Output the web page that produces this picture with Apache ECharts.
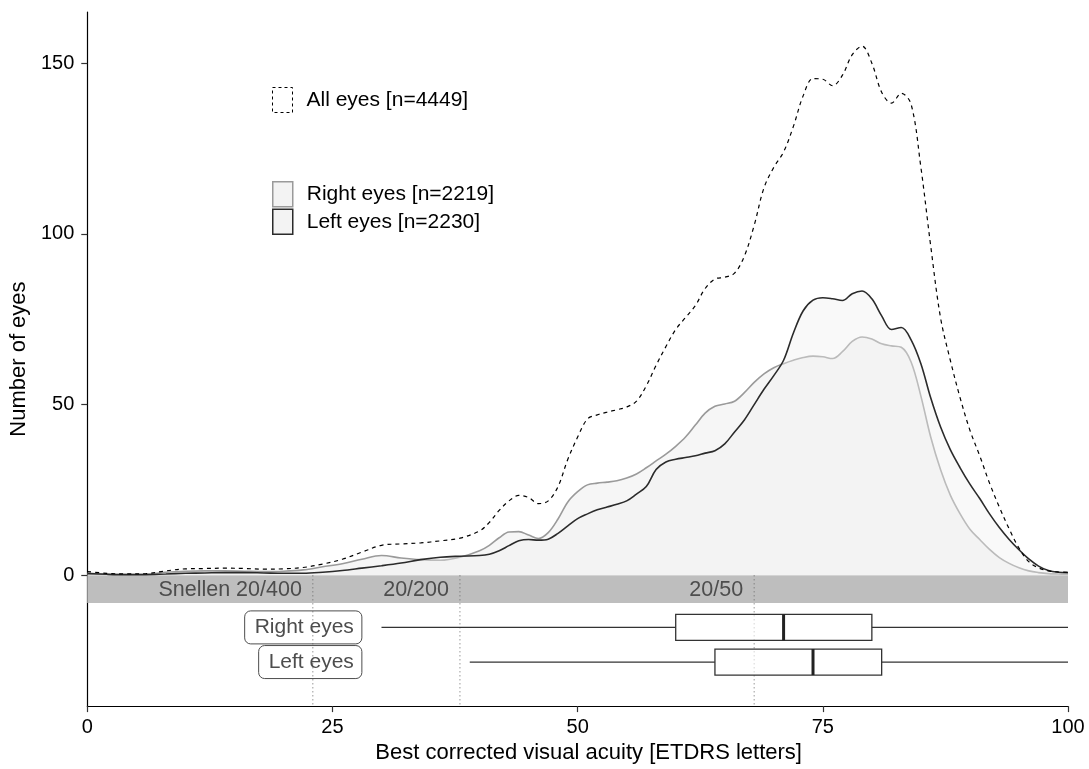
<!DOCTYPE html>
<html>
<head>
<meta charset="utf-8">
<title>Best corrected visual acuity</title>
<script src="https://cdn.jsdelivr.net/npm/echarts@6/dist/echarts.min.js"></script>
<style>
  html, body { margin: 0; padding: 0; background: #fff; }
  #chart { width: 1089px; height: 769px; }
</style>
</head>
<body>
<div id="chart"></div>
<script>
// ETDRS letter scores at which the density estimates are sampled
const acuity = [
  0, 2, 4, 6, 8, 10, 12, 14, 16, 18, 20, 22, 24, 26, 28, 30, 32, 34, 36, 38, 40,
  41, 42, 43, 44, 45, 46, 47, 48, 49, 50,
  51, 52, 53, 54, 55, 56, 57, 58, 59, 60,
  61, 62, 63, 64, 65, 66, 67, 68, 69, 70,
  71, 72, 73, 74, 75, 76, 77, 78, 79, 80,
  81, 82, 83, 84, 85, 86, 87, 88, 89, 90,
  91, 92, 93, 94, 95, 96, 97, 98, 99, 100
];

// Number of eyes (density scaled to counts)
const allEyes = [
  1.1, 0.6, 0.4, 0.5, 1.3, 1.9, 2.0, 2.1, 2.0, 1.8, 1.9, 2.3, 3.3, 4.7, 6.8, 8.8, 9.2, 9.5, 10.1, 10.9, 13.0,
  15.5, 19.0, 21.8, 23.4, 22.8, 21.0, 21.8, 26.0, 34.0, 40.5,
  45.8, 47.0, 47.8, 48.5, 49.3, 51.0, 55.5, 61.5, 67.0, 72.0,
  75.5, 79.0, 84.0, 86.8, 87.3, 88.5, 93.5, 102.5, 113.5, 119.5,
  124.0, 131.5, 140.5, 145.5, 145.3, 143.4, 146.5, 152.5, 155.0, 150.0,
  141.5, 138.3, 141.2, 138.0, 119.5, 96.5, 75.5, 63.0, 52.0, 42.5,
  35.0, 27.0, 20.0, 13.6, 8.0, 4.0, 2.2, 1.3, 1.0, 0.9
];

const rightEyes = [
  0.6, 0.3, 0.2, 0.3, 0.9, 1.2, 1.3, 1.3, 1.2, 1.1, 1.2, 1.6, 2.5, 3.4, 4.7, 5.8, 5.1, 4.6, 4.4, 5.3, 7.2,
  8.8, 11.0, 12.7, 12.8, 11.8, 10.8, 12.5, 16.5, 21.5, 24.5,
  26.5, 27.0, 27.3, 27.7, 28.5, 29.7, 31.5, 33.5, 35.5, 37.8,
  40.5, 44.0, 47.5, 49.5, 50.2, 51.0, 53.5, 56.5, 59.0, 60.8,
  62.0, 63.0, 63.8, 64.2, 64.0, 63.5, 65.5, 68.5, 69.8, 69.2,
  67.8, 67.2, 66.8, 62.5, 52.5, 40.5, 31.0, 23.5, 18.0, 13.5,
  10.5, 7.6, 5.2, 3.5, 2.2, 1.3, 0.8, 0.5, 0.4, 0.3
];

const leftEyes = [
  0.5, 0.3, 0.2, 0.2, 0.4, 0.6, 0.7, 0.8, 0.8, 0.7, 0.6, 0.6, 0.9, 1.4, 2.1, 2.8, 3.6, 4.6, 5.3, 5.6, 5.8,
  6.2, 7.2, 8.7, 10.1, 10.5, 10.3, 10.6, 12.3, 14.5, 16.6,
  18.0, 19.2, 20.0, 20.8, 21.8, 23.8, 26.0, 31.0, 33.2, 34.0,
  34.5, 35.0, 35.8, 36.5, 38.5, 42.0, 45.5, 50.0, 54.5, 58.5,
  63.0, 71.0, 77.5, 80.6, 81.3, 81.0, 80.5, 82.5, 83.3, 81.0,
  76.0, 72.0, 72.6, 69.0, 62.0, 52.0, 43.5, 36.8, 31.5, 26.7,
  22.5, 18.0, 14.0, 10.5, 7.5, 4.8, 2.7, 1.4, 0.9, 0.8
];

const seriesNames = ['All eyes [n=4449]', 'Right eyes [n=2219]', 'Left eyes [n=2230]'];

// Snellen equivalents marked on the letter scale
const snellenAt = [23, 38, 68];
const snellenText = ['Snellen 20/400', '20/200', '20/50'];

// Box plot summaries: [min, q1, median, q3, max]
const boxGroups = ['Right eyes', 'Left eyes'];
const boxStats = [
  [30, 60, 71, 80, 100],
  [39, 64, 74, 81, 100]
];

const yTicks = [0, 50, 100, 150];

// ---- layout ----
const FONT = '"Liberation Sans", Arial, Helvetica, sans-serif';
const Y_MIN = -38.3;
const Y_MAX = 165;
const BAND_BOTTOM = -8.1;        // lower edge of the Snellen strip
const BOX_ROWS = [-15.25, -25.4]; // vertical placement of the two box plots
const BOX_HALF = 13;              // half box height in px
const LABEL_ANCHOR = 28;          // right edge of the box plot captions (letters)

const toPairs = arr => acuity.map((x, i) => [x, arr[i]]);

const chart = echarts.init(document.getElementById('chart'), null, { renderer: 'canvas' });

chart.setOption({
  animation: false,
  backgroundColor: '#fff',
  textStyle: { fontFamily: FONT },
  grid: { left: 86, right: 21, top: 12, bottom: 57, containLabel: false },
  legend: [
    {
      left: 272, top: 87, padding: 0,
      itemWidth: 20, itemHeight: 25,
      selectedMode: false,
      textStyle: { fontSize: 21, color: '#000', fontFamily: FONT, padding: [0, 0, 0, 9] },
      data: [{
        name: seriesNames[0], icon: 'rect',
        itemStyle: { color: '#fff', borderColor: '#000', borderWidth: 1, borderType: [3, 3] }
      }]
    },
    {
      left: 272, top: 181, padding: 0, orient: 'vertical', itemGap: 1,
      itemWidth: 20, itemHeight: 25,
      selectedMode: false,
      textStyle: { fontSize: 21, color: '#000', fontFamily: FONT, padding: [0, 0, 0, 9] },
      data: [
        { name: seriesNames[1], icon: 'rect', itemStyle: { color: '#f3f3f3', borderColor: '#9a9a9a', borderWidth: 1.5 } },
        { name: seriesNames[2], icon: 'rect', itemStyle: { color: '#f3f3f3', borderColor: '#2b2b2b', borderWidth: 1.5 } }
      ]
    }
  ],
  xAxis: {
    type: 'value', min: 0, max: 100, interval: 25,
    name: 'Best corrected visual acuity [ETDRS letters]',
    nameLocation: 'middle', nameGap: 33,
    nameTextStyle: { fontSize: 22, color: '#000', fontFamily: FONT, padding: [0, 0, 0, 22] },
    axisLine: { show: true, onZero: false, lineStyle: { color: '#000', width: 1.2 } },
    axisTick: { show: true, length: 6, lineStyle: { color: '#333', width: 1.2 } },
    axisLabel: { fontSize: 20, color: '#000', margin: 11, fontFamily: FONT },
    splitLine: { show: false }
  },
  yAxis: {
    type: 'value', min: Y_MIN, max: Y_MAX,
    name: 'Number of eyes',
    nameLocation: 'middle', nameGap: 56,
    nameTextStyle: { fontSize: 22, color: '#000', fontFamily: FONT },
    axisLine: { show: true, onZero: false, lineStyle: { color: '#000', width: 1.2 } },
    axisTick: { show: true, length: 6, customValues: yTicks, lineStyle: { color: '#333', width: 1.2 } },
    axisLabel: { customValues: yTicks, fontSize: 20, color: '#000', margin: 13, fontFamily: FONT },
    splitLine: { show: false }
  },
  series: [
    {
      // grey strip carrying the Snellen equivalents
      type: 'custom', name: 'strip', z: 1, silent: true,
      data: [[0, 100]],
      renderItem: (params, api) => {
        const a = api.coord([api.value(0), 0]);
        const b = api.coord([api.value(1), BAND_BOTTOM]);
        return {
          type: 'rect',
          shape: { x: a[0], y: a[1], width: b[0] - a[0], height: b[1] - a[1] },
          style: { fill: '#bebebe' }
        };
      }
    },
    {
      name: seriesNames[1], type: 'line', z: 2,
      data: toPairs(rightEyes), smooth: 0.35, symbol: 'none',
      lineStyle: { color: '#9a9a9a', width: 1.6 },
      itemStyle: { color: '#9a9a9a' },
      areaStyle: { color: 'rgba(230,230,230,0.5)' }
    },
    {
      name: seriesNames[2], type: 'line', z: 3,
      data: toPairs(leftEyes), smooth: 0.35, symbol: 'none',
      lineStyle: { color: '#2b2b2b', width: 1.6 },
      itemStyle: { color: '#2b2b2b' },
      areaStyle: { color: 'rgba(240,240,240,0.55)' }
    },
    {
      name: seriesNames[0], type: 'line', z: 4,
      data: toPairs(allEyes), smooth: 0.35, symbol: 'none',
      lineStyle: { color: '#000', width: 1.2, type: [4, 4] },
      itemStyle: { color: '#000' }
    },
    {
      // dotted Snellen markers and their captions
      type: 'custom', name: 'snellen', z: 5, silent: true,
      data: snellenAt.map((x, i) => [x, i]),
      renderItem: (params, api) => {
        const x = api.value(0);
        const top = api.coord([x, 0]);
        const bottom = api.coord([x, Y_MIN]);
        const mid = api.coord([x, BAND_BOTTOM / 2]);
        return {
          type: 'group',
          children: [
            {
              type: 'line',
              shape: { x1: top[0], y1: top[1], x2: bottom[0], y2: bottom[1] },
              style: { stroke: '#666', lineWidth: 1, lineDash: [1, 3] }
            },
            {
              type: 'text',
              x: top[0] - 11, y: mid[1] + 1,
              style: {
                text: snellenText[api.value(1)], align: 'right', verticalAlign: 'middle',
                fill: '#4d4d4d', fontSize: 21.5, fontFamily: FONT
              }
            }
          ]
        };
      }
    },
    {
      // box plots of acuity per eye
      type: 'custom', name: 'boxes', z: 6, silent: true,
      data: boxStats.map((s, i) => [...s, i]),
      renderItem: (params, api) => {
        const i = api.value(5);
        const row = BOX_ROWS[i];
        const pt = k => api.coord([api.value(k), row]);
        const lo = pt(0), q1 = pt(1), md = pt(2), q3 = pt(3), hi = pt(4);
        const y = lo[1];
        const h = BOX_HALF;
        const stroke = '#333';
        const anchor = api.coord([LABEL_ANCHOR, row]);
        return {
          type: 'group',
          children: [
            { type: 'line', shape: { x1: lo[0], y1: y, x2: q1[0], y2: y }, style: { stroke, lineWidth: 1.2 } },
            { type: 'line', shape: { x1: q3[0], y1: y, x2: hi[0], y2: y }, style: { stroke, lineWidth: 1.2 } },
            {
              type: 'rect',
              shape: { x: q1[0], y: y - h, width: q3[0] - q1[0], height: 2 * h },
              style: { fill: 'rgba(255,255,255,0.6)', stroke, lineWidth: 1.3 }
            },
            { type: 'line', shape: { x1: md[0], y1: y - h, x2: md[0], y2: y + h }, style: { stroke: '#222', lineWidth: 3 } },
            {
              type: 'text', x: anchor[0], y: anchor[1],
              style: {
                text: boxGroups[i], align: 'right', verticalAlign: 'middle',
                fill: '#4d4d4d', fontSize: 21, fontFamily: FONT,
                borderColor: '#4d4d4d', borderWidth: 1, borderRadius: 6,
                padding: [6, 8, 6, 10]
              }
            }
          ]
        };
      }
    }
  ]
});
</script>
</body>
</html>
